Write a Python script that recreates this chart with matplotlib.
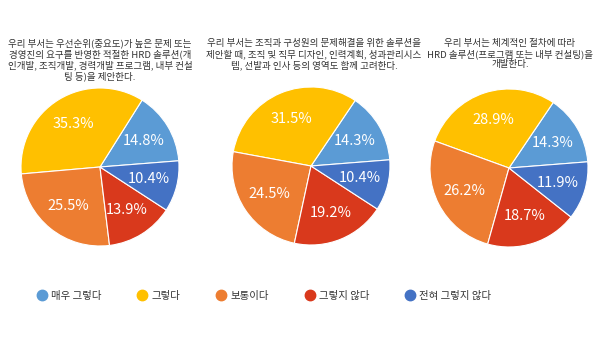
import numpy as np
import matplotlib
matplotlib.use('Agg')
import matplotlib.pyplot as plt
from matplotlib.lines import Line2D

plt.rcParams['font.family'] = ['Noto Sans CJK KR', 'DejaVu Sans']

categories = ['매우 그렇다', '그렇다', '보통이다', '그렇지 않다', '전혀 그렇지 않다']
colors = ['#5B9BD5', '#FFC000', '#ED7D31', '#D9391C', '#4472C4']

titles = [
    '우리 부서는 우선순위(중요도)가 높은 문제 또는\n'
    '경영진의 요구를 반영한 적절한 HRD 솔루션(개\n'
    '인개발, 조직개발, 경력개발 프로그램, 내부 컨설\n'
    '팅 등)을 제안한다.',
    '우리 부서는 조직과 구성원의 문제해결을 위한 솔루션을\n'
    '제안할 때, 조직 및 직무 디자인, 인력계획, 성과관리시스\n'
    '템, 선발과 인사 등의 영역도 함께 고려한다.',
    '우리 부서는 체계적인 절차에 따라\n'
    'HRD 솔루션(프로그램 또는 내부 컨설팅)을\n'
    '개발한다.',
]

q1 = [14.8, 35.3, 25.5, 13.9, 10.4]
q2 = [14.3, 31.5, 24.5, 19.2, 10.4]
q3 = [14.3, 28.9, 26.2, 18.7, 11.9]
series = [q1, q2, q3]

# pixel layout of the three pies: (left, bottom) in pixels
W, H = 600, 338
boxes = [(21, 246), (232, 245), (430, 247)]
size = 158
title_x = [100, 314, 510]

fig = plt.figure(figsize=(W / 100, H / 100), dpi=100)

for vals, (lx, by), title, tx in zip(series, boxes, titles, title_x):
    ax = fig.add_axes([lx / W, (H - by) / H, size / W, size / H])
    wedges, _ = ax.pie(vals, colors=colors, startangle=4.5, counterclock=True,
                       wedgeprops=dict(edgecolor='white', linewidth=0.8))
    for w, v in zip(wedges, vals):
        mid = np.deg2rad((w.theta1 + w.theta2) / 2)
        ax.text(0.64 * np.cos(mid), 0.64 * np.sin(mid), f'{v:.1f}%',
                ha='center', va='center', color='white', fontsize=10.5,
                fontweight='light')
    ax.set_xlim(-1, 1)
    ax.set_ylim(-1, 1)
    ax.set_aspect('equal')
    fig.text(tx / W, 1 - 39 / H, title, ha='center', va='top',
             fontsize=6.85, color='#333333', linespacing=1.15)

handles = [Line2D([], [], marker='o', linestyle='', markersize=7.5,
                  markerfacecolor=c, markeredgecolor=c) for c in colors]
fig.legend(handles, categories, loc='center', bbox_to_anchor=(0.44, 1 - 296 / H),
           ncol=5, frameon=False, fontsize=7.5, columnspacing=3.4,
           handletextpad=0.4, handlelength=1.0, labelcolor='#333333')

fig.savefig('out.png', dpi=100, facecolor='white')
